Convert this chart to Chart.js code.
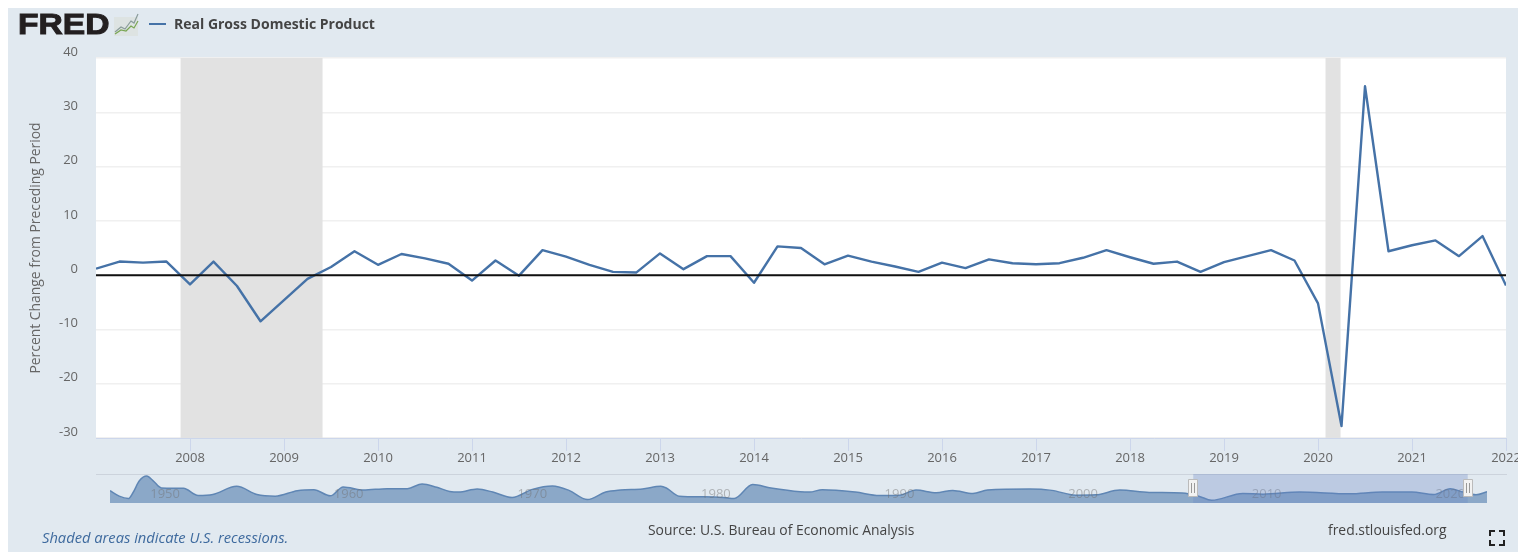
<!DOCTYPE html>
<html>
<head>
<meta charset="utf-8">
<title>Real Gross Domestic Product</title>
<script src="https://cdn.jsdelivr.net/npm/chart.js@4"></script>
<style>
  html, body { margin: 0; padding: 0; background: #fff; overflow: hidden; }
  body { width: 1518px; height: 552px; position: relative; font-family: "Open Sans", sans-serif; }
  #frame { position: absolute; left: 8px; top: 8px; right: 0; bottom: 0; background: #e1e9f0; }
  canvas { position: absolute; }
  #mainChart { left: 0; top: 0; }
  #navChart { left: 110px; top: 474px; }
  .txt { position: absolute; white-space: nowrap; }
  #logo { left: 18px; top: 7px; font: 900 30px/34px "Liberation Sans", sans-serif; color: #231f20; -webkit-text-stroke: 1px #231f20; transform: scaleX(1.12); transform-origin: left center; }
  #legendLine { position: absolute; left: 149px; top: 23px; width: 17px; height: 2px; background: #4572a7; }
  #legendText { left: 174px; top: 15px; font-size: 14px; line-height: 18px; font-weight: 700; color: #444; }
  #navLine { position: absolute; left: 96px; top: 474px; width: 1411px; height: 1px; background: #ccd3dc; }
  #note { left: 42px; top: 528px; font-size: 14.7px; line-height: 18px; font-style: italic; color: #3e6a9e; }
  #source { left: 648px; top: 521px; font-size: 13.9px; line-height: 18px; color: #444; }
  #site { left: 1328px; top: 521px; font-size: 13.9px; line-height: 18px; color: #444; }
</style>
</head>
<body>
<div id="frame"></div>
<canvas id="mainChart" width="1518" height="552"></canvas>
<div id="navLine"></div>
<canvas id="navChart" width="1377" height="29"></canvas>
<div class="txt" id="logo">FRED</div>
<svg style="position:absolute;left:113px;top:13px" width="26" height="24" viewBox="0 0 26 24">
  <rect x="1" y="4" width="24" height="19" fill="#dde3e2"/>
  <polyline points="2,19 8,14 12,16 18,8 21,10 25,1" fill="none" stroke="#8a9c9a" stroke-width="1.2"/>
  <polyline points="2,21 8,17 13,18 18,13 21,15 25,8" fill="none" stroke="#79a653" stroke-width="1.2"/>
</svg>
<div id="legendLine"></div>
<div class="txt" id="legendText">Real Gross Domestic Product</div>
<div class="txt" id="note">Shaded areas indicate U.S. recessions.</div>
<div class="txt" id="source">Source: U.S. Bureau of Economic Analysis</div>
<div class="txt" id="site">fred.stlouisfed.org</div>
<svg style="position:absolute;left:1489px;top:530px" width="16" height="16" viewBox="0 0 16 16">
  <path d="M1 6V1h5M10 1h5v5M1 10v5h5M15 10v5h-5" fill="none" stroke="#222" stroke-width="2"/>
</svg>
<script>
const quarters = [
  '2007-01','2007-04','2007-07','2007-10',
  '2008-01','2008-04','2008-07','2008-10',
  '2009-01','2009-04','2009-07','2009-10',
  '2010-01','2010-04','2010-07','2010-10',
  '2011-01','2011-04','2011-07','2011-10',
  '2012-01','2012-04','2012-07','2012-10',
  '2013-01','2013-04','2013-07','2013-10',
  '2014-01','2014-04','2014-07','2014-10',
  '2015-01','2015-04','2015-07','2015-10',
  '2016-01','2016-04','2016-07','2016-10',
  '2017-01','2017-04','2017-07','2017-10',
  '2018-01','2018-04','2018-07','2018-10',
  '2019-01','2019-04','2019-07','2019-10',
  '2020-01','2020-04','2020-07','2020-10',
  '2021-01','2021-04','2021-07','2021-10',
  '2022-01'
];
const gdpChange = [
  1.2, 2.5, 2.3, 2.5,
  -1.7, 2.5, -2.0, -8.5,
  -4.6, -0.7, 1.5, 4.4,
  1.9, 3.9, 3.1, 2.1,
  -1.0, 2.7, -0.1, 4.6,
  3.4, 1.9, 0.6, 0.5,
  4.0, 1.1, 3.5, 3.5,
  -1.4, 5.3, 5.0, 2.0,
  3.6, 2.5, 1.6, 0.6,
  2.3, 1.3, 2.9, 2.2,
  2.0, 2.2, 3.2, 4.6,
  3.3, 2.1, 2.5, 0.6,
  2.4, 3.5, 4.6, 2.7,
  -5.2, -27.8, 34.8, 4.4,
  5.5, 6.4, 3.5, 7.2,
  -1.9
];
const xTickYears = [2008,2009,2010,2011,2012,2013,2014,2015,2016,2017,2018,2019,2020,2021,2022];
const yTickValues = [-30,-20,-10,0,10,20,30,40];
const recessions = [[2007.9,2009.41],[2020.08,2020.24]];

// overview strip at the bottom (1947-2022), relative height only
const navYears = [
  1947,1947.5,1948,1948.25,1948.6,1949,1949.35,1949.8,1951,1951.8,1952.6,1953.9,1955,1956,1957.2,1958.1,1959,1959.7,
  1960.8,1962.1,1963.2,1964,1964.8,1965.5,1966,1967,1967.85,1968.9,1970,1971.1,1972,1973,1974,1974.8,1976,1977,1977.3,
  1978,1979.3,1980.4,1981,1982,1983,1984.6,1985.1,1985.8,1987.6,1988.9,1990,1990.9,1992,1992.9,1994,1994.8,1997.1,
  1998.3,1999.6,2000.7,2002,2003.6,2005.4,2006.3,2007,2008.7,2009.8,2011.8,2014.5,2016.3,2017.9,2019.1,2020,2020.7,2021.4,2022
];
const navHeights = [
  36,20,13,30,65,79,65,44,43,22,25,49,25,20,36,39,21,47,
  38,42,42,56,46,34,32,41,32,16,40,50,37,10,32,38,41,49,44,
  20,18,16,13,54,44,33,32,39,32,22,23,38,30,37,28,38,41,
  37,23,24,38,31,29,20,8,28,26,32,27,32,32,25,42,32,24,33
];
const navLabels = [1950,1960,1970,1980,1990,2000,2010,2020];
const navSelection = [2006,2020.95];

const toYear = q => {
  const [y, m] = q.split('-').map(Number);
  return y + (m - 1) / 12;
};

Chart.defaults.font.family = "'Open Sans', sans-serif";
Chart.defaults.animation = false;

// white plot background
const plotBackground = {
  id: 'plotBackground',
  beforeDraw(chart) {
    const a = chart.chartArea, c = chart.ctx;
    c.save();
    c.fillStyle = '#fff';
    c.fillRect(a.left, a.top, a.width, a.height);
    c.restore();
  }
};

// recession bands
const recessionBands = {
  id: 'recessionBands',
  beforeDatasetsDraw(chart) {
    const a = chart.chartArea, c = chart.ctx, x = chart.scales.x;
    c.save();
    c.fillStyle = '#e2e2e2';
    recessions.forEach(([from, to]) => {
      const l = x.getPixelForValue(from), r = x.getPixelForValue(to);
      c.fillRect(l, a.top, r - l, a.height);
    });
    c.restore();
  }
};

new Chart(document.getElementById('mainChart'), {
  type: 'line',
  data: {
    datasets: [
      {
        label: 'Zero',
        data: [{ x: 2007, y: 0 }, { x: 2022, y: 0 }],
        borderColor: '#111',
        borderWidth: 2,
        pointRadius: 0,
        order: 0
      },
      {
        label: 'Real Gross Domestic Product',
        data: quarters.map((q, i) => ({ x: toYear(q), y: gdpChange[i] })),
        borderColor: '#4572a7',
        borderWidth: 2.4,
        borderJoinStyle: 'round',
        pointRadius: 0,
        tension: 0,
        order: 1
      }
    ]
  },
  options: {
    responsive: false,
    devicePixelRatio: 1,
    layout: { padding: { left: 28, top: 58, right: 12, bottom: 74 } },
    plugins: { legend: { display: false }, tooltip: { enabled: false } },
    scales: {
      x: {
        type: 'linear',
        min: 2007,
        max: 2022,
        afterBuildTicks: s => { s.ticks = xTickYears.map(v => ({ value: v })); },
        afterFit: s => { s.height = 40; s.paddingLeft = 0; s.paddingRight = 0; },
        border: { color: '#ccd6eb', width: 1 },
        grid: { drawOnChartArea: false, drawTicks: true, tickLength: 13, tickColor: '#ccd6eb' },
        ticks: {
          color: '#666',
          font: { size: 13 },
          padding: -1,
          maxRotation: 0,
          autoSkip: false,
          callback: v => String(v)
        }
      },
      y: {
        min: -30,
        max: 40,
        afterBuildTicks: s => { s.ticks = yTickValues.map(v => ({ value: v })); },
        afterFit: s => { s.width = 68; s.paddingTop = 0; s.paddingBottom = 0; },
        border: { display: false },
        grid: { color: '#f0f0f0', lineWidth: 1.5, drawTicks: false },
        title: {
          display: true,
          text: 'Percent Change from Preceding Period',
          color: '#666',
          font: { size: 13.9 },
          padding: 0
        },
        ticks: {
          color: '#666',
          font: { size: 13 },
          padding: 18,
          labelOffset: -6,
          autoSkip: false
        }
      }
    }
  },
  plugins: [plotBackground, recessionBands]
});

// overview decoration: decade labels, selected range, handles
const navOverlay = {
  id: 'navOverlay',
  afterDatasetsDraw(chart) {
    const a = chart.chartArea, c = chart.ctx, x = chart.scales.x;
    c.save();
    c.font = "13px 'Open Sans', sans-serif";
    c.textAlign = 'center';
    c.textBaseline = 'middle';
    c.fillStyle = 'rgba(110,110,110,0.45)';
    navLabels.forEach(v => c.fillText(String(v), x.getPixelForValue(v), 20));

    const l = x.getPixelForValue(navSelection[0]), r = x.getPixelForValue(navSelection[1]);
    c.fillStyle = 'rgba(102,133,194,0.3)';
    c.fillRect(l, a.top, r - l, a.height);

    [l, r].forEach(px => {
      c.fillStyle = '#f2f2f2';
      c.strokeStyle = '#bbb';
      c.lineWidth = 1;
      c.beginPath();
      c.rect(Math.round(px) - 4.5, 5.5, 9, 17);
      c.fill();
      c.stroke();
      c.strokeStyle = '#999';
      c.beginPath();
      c.moveTo(Math.round(px) - 1.5, 9); c.lineTo(Math.round(px) - 1.5, 19);
      c.moveTo(Math.round(px) + 1.5, 9); c.lineTo(Math.round(px) + 1.5, 19);
      c.stroke();
    });
    c.restore();
  }
};

new Chart(document.getElementById('navChart'), {
  type: 'line',
  data: {
    datasets: [{
      data: navYears.map((y, i) => ({ x: y, y: navHeights[i] })),
      borderColor: '#5f86b4',
      borderWidth: 1.5,
      backgroundColor: 'rgba(69,114,167,0.55)',
      fill: 'origin',
      pointRadius: 0,
      cubicInterpolationMode: 'monotone'
    }]
  },
  options: {
    responsive: false,
    devicePixelRatio: 1,
    layout: { padding: 0 },
    plugins: { legend: { display: false }, tooltip: { enabled: false } },
    scales: {
      x: { type: 'linear', min: 1947, max: 2022, display: false },
      y: { min: 0, max: 85, display: false }
    }
  },
  plugins: [navOverlay]
});
</script>
</body>
</html>
